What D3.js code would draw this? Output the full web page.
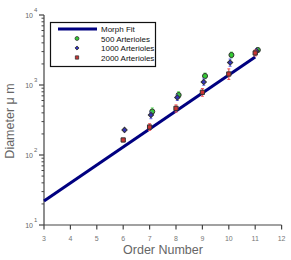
<!DOCTYPE html>
<html><head><meta charset="utf-8">
<script src="https://cdn.jsdelivr.net/npm/d3@7"></script>
<style>body{margin:0;background:#fff;}svg{display:block;}</style>
</head><body>
<svg id="c" width="291" height="260"></svg>
<script>
const fitX = [3, 11];
const fitY = [22, 2512];
const orders = [6, 7, 8, 9, 10, 11];
const s500 = [null, 418, 720, 1345, 2683, 3160];
const s500lo = [null, 380, 660, 1230, 2450, 2950];
const s500hi = [null, 470, 800, 1480, 2950, 3400];
const s1000 = [228, 373, 663, 1104, 2096, 3060];
const s1000lo = [215, 330, 600, 990, 1850, 2850];
const s1000hi = [240, 410, 720, 1220, 2350, 3300];
const s2000 = [164, 251, 464, 787, 1436, 2865];
const s2000lo = [155, 225, 410, 690, 1200, 2600];
const s2000hi = [172, 280, 520, 890, 1700, 3150];
const xTicks = [3,4,5,6,7,8,9,10,11,12];
const yTicks = [10, 100, 1000, 10000];
const yExp = ["1","2","3","4"];
const legendLabels = ["Morph Fit", "500 Arterioles", "1000 Arterioles", "2000 Arterioles"];

const svg = d3.select("#c");
const x = d3.scaleLinear().domain([3, 12]).range([44, 281.6]);
const y = d3.scaleLog().domain([10, 10000]).range([225, 15]);
const axisCol = "#444";
const font = "Liberation Sans, Arial, sans-serif";

// y axis
const ya = svg.append("g");
ya.append("line").attr("x1", 44).attr("x2", 44).attr("y1", y(10000)).attr("y2", y(10)).attr("stroke", axisCol).attr("stroke-width", 1.2);
const minor = [];
for (let d = 10; d < 10000; d *= 10) for (let k = 2; k <= 9; k++) minor.push(d * k);
ya.selectAll(".mn").data(minor).join("line").attr("x1", 41.5).attr("x2", 44)
  .attr("y1", d => y(d)).attr("y2", d => y(d)).attr("stroke", axisCol).attr("stroke-width", 1);
ya.selectAll(".mj").data(yTicks).join("line").attr("x1", 39).attr("x2", 44)
  .attr("y1", d => y(d)).attr("y2", d => y(d)).attr("stroke", axisCol).attr("stroke-width", 1.2);
const yl = ya.selectAll(".yl").data(yTicks).join("g").attr("transform", d => `translate(33,${y(d)+3})`);
yl.append("text").attr("text-anchor", "end").attr("font-family", font).attr("font-size", 7).attr("fill", "#666").text("10");
yl.append("text").attr("x", 1).attr("y", -6).attr("font-family", font).attr("font-size", 6).attr("fill", "#666").text((d,i) => yExp[i]);

// x axis
const xa = svg.append("g");
xa.append("line").attr("x1", x(3)).attr("x2", x(12)).attr("y1", 225).attr("y2", 225).attr("stroke", axisCol).attr("stroke-width", 1.2);
xa.selectAll(".xt").data(xTicks).join("line").attr("x1", d => x(d)).attr("x2", d => x(d))
  .attr("y1", 225).attr("y2", 229.5).attr("stroke", axisCol).attr("stroke-width", 1.2);
xa.selectAll(".xl").data(xTicks).join("text").attr("x", d => x(d)).attr("y", 241)
  .attr("text-anchor", "middle").attr("font-family", font).attr("font-size", 7).attr("fill", "#777").text(d => d);

// axis titles
svg.append("text").attr("x", 163).attr("y", 254).attr("text-anchor", "middle").attr("font-family", font)
  .attr("font-size", 12.5).attr("fill", "#666").text("Order Number");
svg.append("text").attr("transform", "translate(14,121) rotate(-90)").attr("text-anchor", "middle").attr("font-family", font)
  .attr("font-size", 12.5).attr("fill", "#666").text("Diameter μ m");

// fit line
const line = d3.line().x(d => x(d[0])).y(d => y(d[1]));
svg.append("path").datum(fitX.map((v,i) => [v, fitY[i]])).attr("d", line)
  .attr("fill", "none").attr("stroke", "#000080").attr("stroke-width", 3);

// series
const series = [
  {v: s500, lo: s500lo, hi: s500hi, dx: 0.1, col: "#33cc33", bar: "#55dd55", shape: d3.symbolCircle, rot: 0, size: 20},
  {v: s1000, lo: s1000lo, hi: s1000hi, dx: 0.05, col: "#3333bb", bar: "#6666ee", shape: d3.symbolSquare, rot: 45, size: 14},
  {v: s2000, lo: s2000lo, hi: s2000hi, dx: 0, col: "#cc3333", bar: "#ee5555", shape: d3.symbolSquare, rot: 0, size: 18}
];
series.forEach(s => {
  const pts = orders.map((o,i) => ({o, v: s.v[i], lo: s.lo[i], hi: s.hi[i]})).filter(p => p.v != null);
  const g = svg.append("g");
  g.selectAll("line.e").data(pts).join("line").attr("x1", p => x(p.o + s.dx)).attr("x2", p => x(p.o + s.dx))
    .attr("y1", p => y(p.lo)).attr("y2", p => y(p.hi)).attr("stroke", s.bar).attr("stroke-width", 1.2);
  g.selectAll("line.c1").data(pts).join("line").attr("x1", p => x(p.o + s.dx) - 1.5).attr("x2", p => x(p.o + s.dx) + 1.5)
    .attr("y1", p => y(p.hi)).attr("y2", p => y(p.hi)).attr("stroke", s.bar).attr("stroke-width", 1);
  g.selectAll("line.c2").data(pts).join("line").attr("x1", p => x(p.o + s.dx) - 1.5).attr("x2", p => x(p.o + s.dx) + 1.5)
    .attr("y1", p => y(p.lo)).attr("y2", p => y(p.lo)).attr("stroke", s.bar).attr("stroke-width", 1);
  g.selectAll("path").data(pts).join("path").attr("d", d3.symbol(s.shape, s.size))
    .attr("transform", p => `translate(${x(p.o + s.dx)},${y(p.v)}) rotate(${s.rot})`)
    .attr("fill", s.col).attr("stroke", "#333").attr("stroke-width", 1);
});

// legend
const lg = svg.append("g");
lg.append("rect").attr("x", 50.5).attr("y", 22.5).attr("width", 105).attr("height", 44).attr("fill", "#fff")
  .attr("stroke", "#111").attr("stroke-width", 1.2);
lg.append("line").attr("x1", 58).attr("x2", 97).attr("y1", 29).attr("y2", 29).attr("stroke", "#000080").attr("stroke-width", 3);
const rowsY = [29, 38.5, 48, 57.5];
series.forEach((s, i) => {
  lg.append("path").attr("d", d3.symbol(s.shape, s.size * 0.6)).attr("transform", `translate(77,${rowsY[i+1]}) rotate(${s.rot})`)
    .attr("fill", s.col).attr("stroke", "#333").attr("stroke-width", 0.8);
});
lg.selectAll("text").data(legendLabels).join("text").attr("x", 101).attr("y", (d,i) => rowsY[i] + 3)
  .attr("font-family", font).attr("font-size", 8).attr("fill", "#111").text(d => d);
</script>
</body></html>
